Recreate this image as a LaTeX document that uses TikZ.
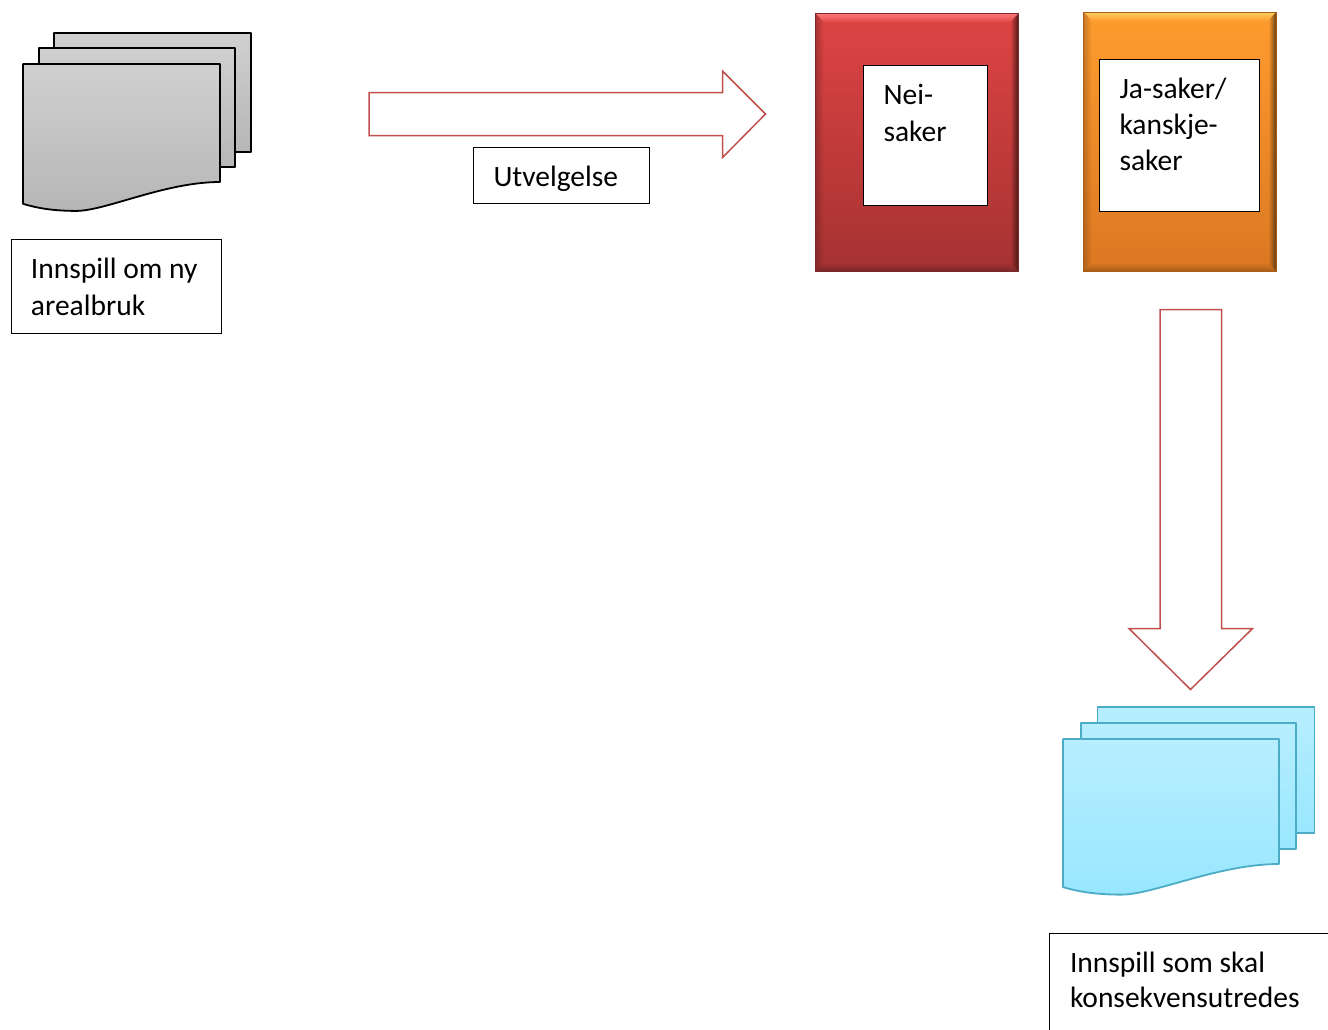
\documentclass[tikz,border=0pt]{standalone}
\usepackage{fontspec}
\setmainfont{Carlito}
\usetikzlibrary{calc,fadings}
\definecolor{arrowred}{HTML}{C0504D}
\definecolor{bluel}{HTML}{4BACC6}
\definecolor{redtop}{HTML}{DE4444}
\definecolor{redbot}{HTML}{A63232}
\definecolor{redhi}{HTML}{FF7A7A}
\definecolor{redlo}{HTML}{7A2828}
\definecolor{redsd}{HTML}{4A1818}
\definecolor{ortop}{HTML}{FF9C2E}
\definecolor{orbot}{HTML}{DB7722}
\definecolor{orhi}{HTML}{FFD060}
\definecolor{orlo}{HTML}{A85E18}
\definecolor{orsd}{HTML}{5E3A10}
\definecolor{graytop}{HTML}{D0D0D0}
\definecolor{graybot}{HTML}{B6B6B6}
\definecolor{bluetop}{HTML}{B8EEFF}
\definecolor{bluebot}{HTML}{98E7FF}
\tikzset{
  textbox/.style={draw=black,line width=1pt,fill=white,anchor=north west,inner sep=0pt,align=left},
  blockarrow/.style={draw=arrowred,line width=1.5pt,fill=white,line join=miter},
  graydoc/.style={draw=black,line width=1.8pt,top color=graytop,bottom color=graybot,line join=round},
  bluedoc/.style={draw=bluel,line width=1.8pt,top color=bluetop,bottom color=bluebot,line join=round},
}
% doc sheet: style x y width height (height is to the right-hand bottom)
\newcommand\docsheet[5]{%
  \path[#1] (#2,#3) -- ++(#4,0) -- ++(0,#5)
    .. controls ($(#2,#3)+(0.72*#4,#5)$) and ($(#2,#3)+(0.42*#4,1.245*#5)$) .. ($(#2,#3)+(0.27*#4,1.245*#5)$)
    .. controls ($(#2,#3)+(0.15*#4,1.245*#5)$) and ($(#2,#3)+(0.07*#4,1.22*#5)$) .. ($(#2,#3)+(0,1.185*#5)$) -- cycle;}
% bevelled panel
\newcommand\bevelpanel[9]{%
  \fill[top color=#5,bottom color=#6] (#1,#2) rectangle (#3,#4);
  \fill[#7,path fading=south] (#1,#2) -- (#3,#2) -- (#3-8,#2+9) -- (#1+8,#2+9) -- cycle;
  \fill[#8,path fading=north] (#1,#4) -- (#3,#4) -- (#3-8,#4-8) -- (#1+8,#4-8) -- cycle;
  \fill[#9,path fading=west] (#3-8,#2+8) -- (#3,#2) -- (#3,#4) -- (#3-8,#4-8) -- cycle;
  \fill[#9,path fading=east,opacity=.35] (#1+8,#2+8) -- (#1,#2) -- (#1,#4) -- (#1+8,#4-8) -- cycle;
  \draw[#8,line width=.8pt] (#1,#2) rectangle (#3,#4);}
\begin{document}
\begin{tikzpicture}[x=1pt,y=-1pt]
\useasboundingbox (0,0) rectangle (1328,1029);
\clip (0,0) rectangle (1328,1029);
\fill[white] (0,0) rectangle (1328,1029);

% grey stack
\path[graydoc] (54,33) rectangle (251,152);
\path[graydoc] (39,48) rectangle (235,167);
\docsheet{graydoc}{23}{64}{197}{118}

% block arrow right
\coordinate (selB) at (765.5,114);
\path[blockarrow] (369,92.5) -- (722.5,92.5) -- (722.5,71) -- (selB) -- (722.5,157.5) -- (722.5,135.5) -- (369,135.5) -- cycle;

% panels
\bevelpanel{815.5}{13.5}{1018.5}{271}{redtop}{redbot}{redhi}{redlo}{redsd}
\bevelpanel{1083.5}{12}{1276.5}{271}{ortop}{orbot}{orhi}{orlo}{orsd}

% block arrow down
\coordinate (downB) at (1190.5,689.5);
\path[blockarrow] (1160,309.5) -- (1221.5,309.5) -- (1221.5,628.5) -- (1252.5,628.5) -- (downB) -- (1129,628.5) -- (1160,628.5) -- cycle;

% blue stack
\path[bluedoc] (1097.5,707) rectangle (1314.5,833);
\path[bluedoc] (1081,723) rectangle (1296,849);
\docsheet{bluedoc}{1063}{739}{216}{125}

% text boxes
\node[textbox] (innspill) at (10.5,238.5) {\parbox[t][94pt][t]{210pt}{\fontsize{29.5}{37}\selectfont\vspace*{19pt}\hspace*{20pt}Innspill om ny\\\hspace*{20pt}arealbruk}};
\node[textbox] (utvelgelse) at (472.5,146.5) {\parbox[t][56pt][t]{176pt}{\fontsize{29.5}{37}\selectfont\vspace*{19pt}\hspace*{20.5pt}Utvelgelse}};
\node[textbox] (nei) at (863,64.5) {\parbox[t][140pt][t]{123.5pt}{\fontsize{29.5}{37}\selectfont\vspace*{19pt}\hspace*{20pt}Nei-\\\hspace*{20pt}saker}};
\node[textbox] (ja) at (1099,58.5) {\parbox[t][152pt][t]{160pt}{\fontsize{29.5}{36}\selectfont\vspace*{19pt}\hspace*{20pt}Ja-saker/\\\hspace*{20pt}kanskje-\\\hspace*{20pt}saker}};
\node[textbox] (ku) at (1048.5,933) {\parbox[t][110pt][t]{300pt}{\fontsize{29.5}{35}\selectfont\vspace*{19pt}\hspace*{21pt}Innspill som skal\\\hspace*{21pt}konsekvensutredes}};
\end{tikzpicture}
\end{document}
